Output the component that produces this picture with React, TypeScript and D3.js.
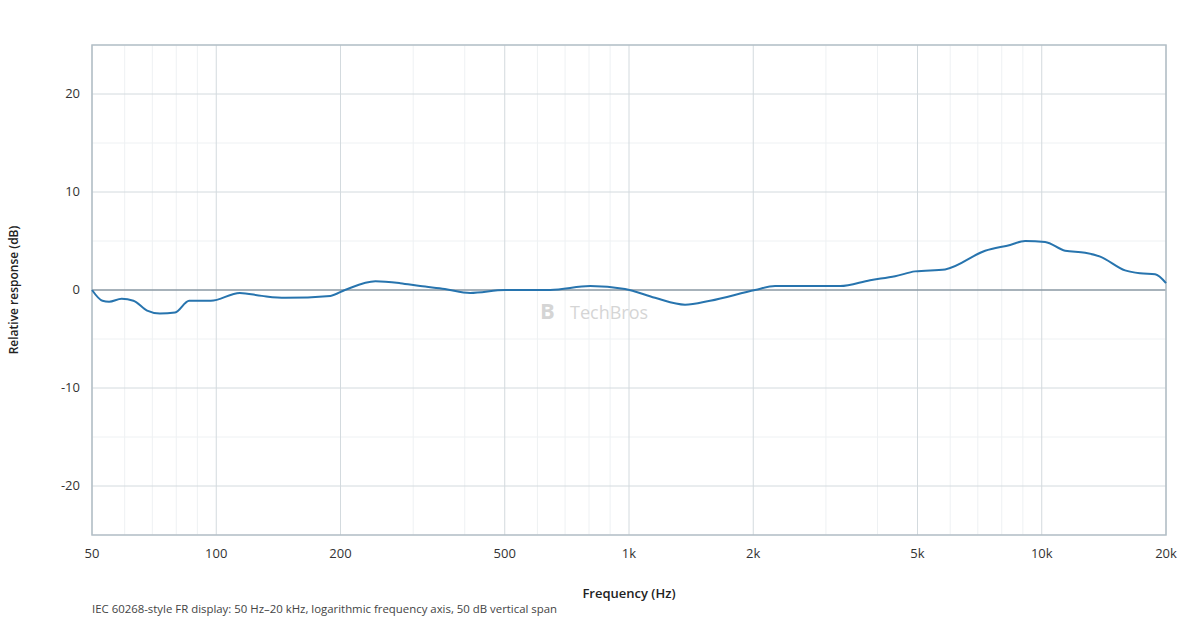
import * as d3 from "d3";

const freqs = [50, 53, 55, 59, 63, 68, 73, 79.5, 86, 97, 114, 129, 147, 189, 205, 243, 279, 312, 358, 412, 501, 644, 805, 978, 1156, 1367, 1572, 2021, 2259, 2597, 3247, 3839, 4413, 4933, 5833, 7292, 8385, 9113, 10190, 11394, 12740, 13855, 15920, 17310, 18820, 20000];
const dbs = [0, -1.1, -1.2, -0.9, -1.1, -2.1, -2.4, -2.3, -1.1, -1.1, -0.3, -0.6, -0.8, -0.6, 0, 0.9, 0.7, 0.4, 0.1, -0.3, 0, 0, 0.4, 0.1, -0.8, -1.5, -1.1, 0, 0.4, 0.4, 0.4, 1.0, 1.4, 1.9, 2.1, 4.0, 4.6, 5.0, 4.9, 4.0, 3.8, 3.4, 2.0, 1.7, 1.6, 0.7];
const xTicks = [50, 100, 200, 500, 1000, 2000, 5000, 10000, 20000];
const xTickLabels = ["50", "100", "200", "500", "1k", "2k", "5k", "10k", "20k"];
const yTicks = [-20, -10, 0, 10, 20];

const L = 92, R = 1166, T = 45, B = 535;

export default function App() {
  const x = d3.scaleLog().domain([50, 20000]).range([L, R]);
  const y = d3.scaleLinear().domain([-25, 25]).range([B, T]);
  const minorX: number[] = [];
  for (const dec of [10, 100, 1000, 10000])
    for (let m = 1; m < 10; m++) {
      const f = m * dec;
      if (f > 50 && f < 20000 && !xTicks.includes(f)) minorX.push(f);
    }
  const minorY = d3.range(-25, 26, 5).filter((v) => !yTicks.includes(v));
  const line = d3
    .line<number>()
    .x((_, i) => x(freqs[i]))
    .y((d) => y(d))
    .curve(d3.curveMonotoneX);
  const font = "'Segoe UI', 'Open Sans', 'DejaVu Sans', sans-serif";

  return (
    <svg width={1200} height={620} style={{ position: "absolute", left: 0, top: 0, fontFamily: font }}>
      <rect width={1200} height={620} fill="#fff" />
      {minorX.map((f) => (
        <line key={"mx" + f} x1={x(f)} x2={x(f)} y1={T} y2={B} stroke="#eef1f3" />
      ))}
      {minorY.map((v) => (
        <line key={"my" + v} x1={L} x2={R} y1={y(v)} y2={y(v)} stroke="#eef1f3" />
      ))}
      {xTicks.map((f) => (
        <line key={"x" + f} x1={x(f)} x2={x(f)} y1={T} y2={B} stroke="#d3dade" />
      ))}
      {yTicks.map((v) => (
        <line key={"y" + v} x1={L} x2={R} y1={y(v)} y2={y(v)} stroke={v === 0 ? "#8a98a3" : "#d3dade"} strokeWidth={v === 0 ? 1.5 : 1} />
      ))}
      <rect x={L} y={T} width={R - L} height={B - T} fill="none" stroke="#b3bec6" strokeWidth={1.5} />
      <g opacity={0.35} fill="#888">
        <text x={540} y={319} fontSize={22} fontWeight={700}>B</text>
        <text x={570} y={319} fontSize={18}>TechBros</text>
      </g>
      <path d={line(dbs) ?? ""} fill="none" stroke="#2774ae" strokeWidth={2} />
      {xTicks.map((f, i) => (
        <text key={"xl" + f} x={x(f)} y={558} textAnchor="middle" fontSize={13} fill="#333">{xTickLabels[i]}</text>
      ))}
      {yTicks.map((v) => (
        <text key={"yl" + v} x={80} y={y(v) + 4} textAnchor="end" fontSize={13} fill="#333">{v}</text>
      ))}
      <text x={629} y={598} textAnchor="middle" fontSize={13} fontWeight={600} fill="#222">Frequency (Hz)</text>
      <text transform="translate(18,290) rotate(-90)" textAnchor="middle" fontSize={12} fontWeight={600} fill="#222">Relative response (dB)</text>
      <text x={92} y={613} fontSize={11.4} fill="#444">IEC 60268-style FR display: 50 Hz–20 kHz, logarithmic frequency axis, 50 dB vertical span</text>
    </svg>
  );
}
